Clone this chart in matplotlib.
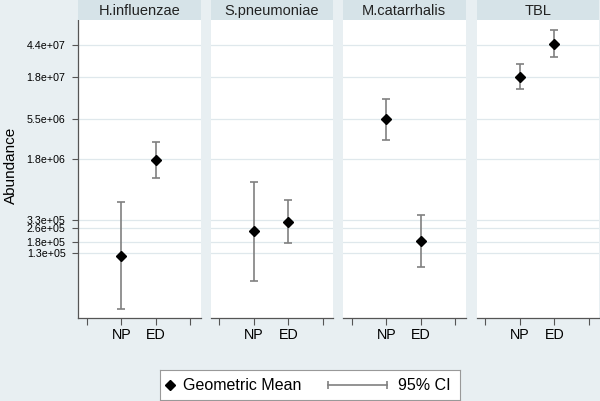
import numpy as np
import matplotlib
matplotlib.use("Agg")
import matplotlib.pyplot as plt
from matplotlib.ticker import FixedLocator, NullLocator

plt.rcParams['font.family'] = ['Liberation Sans', 'DejaVu Sans']

# geometric means and 95% CI per organism, for NP and ED groups
panels = ["H.influenzae", "S.pneumoniae", "M.catarrhalis", "TBL"]
groups = ["NP", "ED"]
gm_np = [1.21e5, 2.39e5, 5.52e6, 1.78e7]
lo_np = [2.72e4, 5.98e4, 3.11e6, 1.26e7]
hi_np = [5.46e5, 9.50e5, 9.57e6, 2.59e7]
gm_ed = [1.76e6, 3.13e5, 1.84e5, 4.52e7]
lo_ed = [1.06e6, 1.71e5, 8.77e4, 3.08e7]
hi_ed = [2.91e6, 5.73e5, 3.77e5, 6.68e7]

ytick_vals = [1.3e5, 1.8e5, 2.6e5, 3.3e5, 1.8e6, 5.5e6, 1.8e7, 4.4e7]
ytick_labels = ["1.3e+05", "1.8e+05", "2.6e+05", "3.3e+05",
                "1.8e+06", "5.5e+06", "1.8e+07", "4.4e+07"]

bg = '#E8EFF2'
strip_col = '#D6E3E8'
axis_col = '#555555'
ci_col = '#808080'
grid_col = '#DFE8EC'

W, H = 600, 401
f = plt.figure(figsize=(W / 100, H / 100), dpi=100)
f.patch.set_facecolor(bg)

lefts = [78, 210.5, 343, 476.5]
pw = 122.5
top_px, bot_px = 19.5, 318

for i, name in enumerate(panels):
    ax = f.add_axes([lefts[i] / W, (H - bot_px) / H, pw / W, (bot_px - top_px) / H])
    ax.set_facecolor('white')
    ax.set_yscale('log')
    ax.set_ylim(2.13e4, 8.89e7)
    ax.set_xlim(-0.26, 3.3)

    x = np.array([1, 2])
    gm = np.array([gm_np[i], gm_ed[i]])
    lo = np.array([lo_np[i], lo_ed[i]])
    hi = np.array([hi_np[i], hi_ed[i]])
    ax.errorbar(x, gm, yerr=[gm - lo, hi - gm], fmt='none', ecolor=ci_col,
                elinewidth=1.2, capsize=3, capthick=1.2, zorder=3)
    ax.plot(x, gm, 'D', color='black', markersize=4.8, zorder=4)

    ax.yaxis.set_major_locator(FixedLocator(ytick_vals))
    ax.yaxis.set_minor_locator(NullLocator())
    ax.grid(axis='y', color=grid_col, linewidth=0.9, zorder=0)
    ax.set_axisbelow(True)

    ax.set_xticks([0, 1, 2, 3])
    ax.set_xticklabels(["", groups[0], groups[1], ""])
    ax.tick_params(axis='x', direction='out', length=5, width=0.8, color=axis_col,
                   labelsize=10.3, pad=2)

    for s in ['top', 'right']:
        ax.spines[s].set_visible(False)
    ax.spines['bottom'].set_color(axis_col)
    ax.spines['bottom'].set_linewidth(0.9)

    if i == 0:
        ax.set_yticklabels(ytick_labels)
        ax.tick_params(axis='y', direction='out', length=4, width=0.8, color=axis_col,
                       labelsize=7.7, pad=5)
        ax.spines['left'].set_color(axis_col)
        ax.spines['left'].set_linewidth(0.9)
        ax.set_ylabel("Abundance", fontsize=11)
        ax.yaxis.set_label_coords((18 - lefts[0]) / pw, 0.51)
    else:
        ax.spines['left'].set_visible(False)
        ax.tick_params(axis='y', left=False, labelleft=False)

    # title strip
    sa = f.add_axes([lefts[i] / W, (H - top_px) / H, pw / W, top_px / H])
    sa.set_facecolor(strip_col)
    sa.set_xticks([])
    sa.set_yticks([])
    for s in sa.spines.values():
        s.set_visible(False)
    sa.text(0.5, 0.45, name, ha='center', va='center', fontsize=10.5, color='#222222')

# legend box
la = f.add_axes([160 / W, 1 / H, 300 / W, 30 / H])
la.set_facecolor('white')
la.set_xlim(0, 1)
la.set_ylim(0, 1)
la.set_xticks([])
la.set_yticks([])
for s in la.spines.values():
    s.set_color('#999999')
    s.set_linewidth(0.8)
la.plot([0.033], [0.5], 'D', color='black', markersize=5)
la.text(0.077, 0.47, "Geometric Mean", ha='left', va='center', fontsize=11.5)
la.plot([0.56, 0.757], [0.5, 0.5], color=ci_col, linewidth=1.2, marker='|',
        markersize=6, markeredgewidth=1.2)
la.text(0.793, 0.47, "95% CI", ha='left', va='center', fontsize=11.5)

plt.savefig("out.png", dpi=100, facecolor=bg)
